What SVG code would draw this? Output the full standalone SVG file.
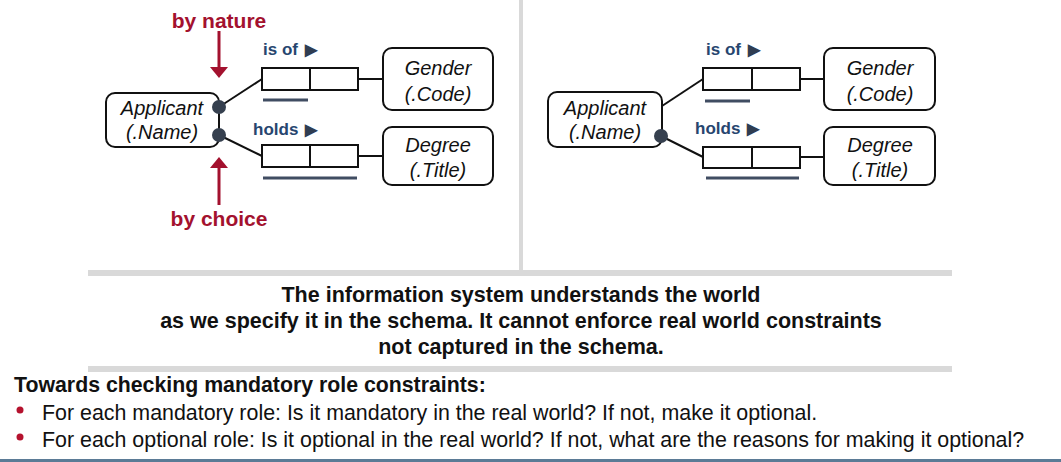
<svg xmlns="http://www.w3.org/2000/svg" width="1061" height="462" viewBox="0 0 1061 462">
  <style>
    .entity { fill: #ffffff; stroke: #111111; stroke-width: 2; }
    .role { fill: #ffffff; stroke: #111111; stroke-width: 2; }
    .link { stroke: #111111; stroke-width: 2; fill: none; }
    .uc { stroke: #404d62; stroke-width: 3; }
    .dot { fill: #36404f; }
    .ename { font-family: "Liberation Sans", Arial, sans-serif; font-style: italic; font-size: 20px; fill: #111111; text-anchor: middle; }
    .rlabel { font-family: "Liberation Sans", Arial, sans-serif; font-weight: bold; font-size: 17px; fill: #27466f; }
    .tri { font-size: 16px; fill: #2f3d52; }
    .note { font-family: "Liberation Sans", Arial, sans-serif; font-weight: bold; font-size: 21px; fill: #a3112e; text-anchor: middle; }
    .sep { fill: #d9d9d9; }
    .msg { font-family: "Liberation Sans", Arial, sans-serif; font-weight: bold; font-size: 21.5px; fill: #111111; text-anchor: middle; }
    .head { font-family: "Liberation Sans", Arial, sans-serif; font-weight: bold; font-size: 21.3px; fill: #111111; }
    .item { font-family: "Liberation Sans", Arial, sans-serif; font-size: 21.4px; fill: #111111; }
  </style>

  <rect width="1061" height="462" fill="#ffffff"/>

  <!-- panel separators -->
  <rect class="sep" x="519" y="0" width="4" height="271"/>
  <rect class="sep" x="88" y="270" width="864" height="6"/>
  <rect class="sep" x="88" y="366" width="864" height="6"/>
  <rect x="0" y="459" width="1061" height="3" fill="#5b7b96"/>

  <!-- connectors -->
  <g id="connectors">
    <!-- left schema -->
    <line class="link" x1="219" y1="107" x2="262" y2="79"/>
    <line class="link" x1="219" y1="135" x2="262" y2="156"/>
    <line class="link" x1="358" y1="79" x2="383" y2="79"/>
    <line class="link" x1="358" y1="156" x2="383" y2="156"/>
    <!-- right schema -->
    <line class="link" x1="662" y1="106" x2="703" y2="79"/>
    <line class="link" x1="661" y1="136" x2="703" y2="157"/>
    <line class="link" x1="800" y1="79" x2="824" y2="79"/>
    <line class="link" x1="800" y1="157" x2="824" y2="157"/>
  </g>

  <!-- left schema: both roles of Applicant mandatory -->
  <g id="applicant-left">
    <rect class="entity" x="106" y="93" width="113" height="54" rx="9"/>
    <text class="ename" x="162" y="115">Applicant</text>
    <text class="ename" x="162" y="139">(.Name)</text>
  </g>
  <g id="gender-left">
    <rect class="entity" x="383" y="48" width="110" height="62" rx="9"/>
    <text class="ename" x="438" y="75">Gender</text>
    <text class="ename" x="438" y="101">(.Code)</text>
  </g>
  <g id="degree-left">
    <rect class="entity" x="383" y="127" width="110" height="58" rx="9"/>
    <text class="ename" x="438" y="152">Degree</text>
    <text class="ename" x="438" y="177">(.Title)</text>
  </g>
  <g id="isof-left">
    <text class="rlabel" x="263" y="55">is of <tspan class="tri" dx="2">▶</tspan></text>
    <rect class="role" x="262" y="68" width="96" height="22"/>
    <line class="link" x1="310" y1="68" x2="310" y2="90"/>
    <line class="uc" x1="263" y1="100" x2="308" y2="100"/>
  </g>
  <g id="holds-left">
    <text class="rlabel" x="253" y="135">holds <tspan class="tri" dx="2">▶</tspan></text>
    <rect class="role" x="262" y="145" width="96" height="22"/>
    <line class="link" x1="310" y1="145" x2="310" y2="167"/>
    <line class="uc" x1="263" y1="178" x2="357" y2="178"/>
  </g>
  <g id="mandatory-dots-left">
    <circle class="dot" cx="219" cy="107" r="7"/>
    <circle class="dot" cx="219" cy="135" r="7"/>
  </g>
  <g id="annotations">
    <text class="note" x="219" y="28">by nature</text>
    <line x1="219" y1="31" x2="219" y2="68" stroke="#a3112e" stroke-width="3"/>
    <polygon points="210,67 228,67 219,78" fill="#a3112e"/>
    <text class="note" x="219" y="226">by choice</text>
    <line x1="219" y1="167" x2="219" y2="205" stroke="#a3112e" stroke-width="3"/>
    <polygon points="210,168 228,168 219,157" fill="#a3112e"/>
  </g>

  <!-- right schema: gender role made optional -->
  <g id="applicant-right">
    <rect class="entity" x="548" y="92" width="114" height="55" rx="9"/>
    <text class="ename" x="605" y="115">Applicant</text>
    <text class="ename" x="605" y="139">(.Name)</text>
  </g>
  <g id="gender-right">
    <rect class="entity" x="824" y="48" width="111" height="62" rx="9"/>
    <text class="ename" x="880" y="75">Gender</text>
    <text class="ename" x="880" y="101">(.Code)</text>
  </g>
  <g id="degree-right">
    <rect class="entity" x="824" y="127" width="111" height="58" rx="9"/>
    <text class="ename" x="880" y="152">Degree</text>
    <text class="ename" x="880" y="177">(.Title)</text>
  </g>
  <g id="isof-right">
    <text class="rlabel" x="706" y="55">is of <tspan class="tri" dx="2">▶</tspan></text>
    <rect class="role" x="703" y="68" width="97" height="22"/>
    <line class="link" x1="752" y1="68" x2="752" y2="90"/>
    <line class="uc" x1="705" y1="101" x2="750" y2="101"/>
  </g>
  <g id="holds-right">
    <text class="rlabel" x="695" y="134">holds <tspan class="tri" dx="2">▶</tspan></text>
    <rect class="role" x="703" y="147" width="97" height="21"/>
    <line class="link" x1="752" y1="147" x2="752" y2="168"/>
    <line class="uc" x1="706" y1="178" x2="799" y2="178"/>
  </g>
  <g id="mandatory-dot-right">
    <circle class="dot" cx="661" cy="136" r="7"/>
  </g>

  <!-- statement -->
  <g id="statement">
    <text class="msg" x="521" y="302">The information system understands the world</text>
    <text class="msg" x="521" y="328">as we specify it in the schema. It cannot enforce real world constraints</text>
    <text class="msg" x="521" y="354">not captured in the schema.</text>
  </g>

  <!-- checklist -->
  <g id="checklist">
    <text class="head" x="14" y="392">Towards checking mandatory role constraints:</text>
    <circle cx="20" cy="410" r="3.5" fill="#b5122e"/>
    <text class="item" x="42" y="420">For each mandatory role: Is it mandatory in the real world? If not, make it optional.</text>
    <circle cx="20" cy="437" r="3.5" fill="#b5122e"/>
    <text class="item" x="42" y="447">For each optional role: Is it optional in the real world? If not, what are the reasons for making it optional?</text>
  </g>
</svg>
